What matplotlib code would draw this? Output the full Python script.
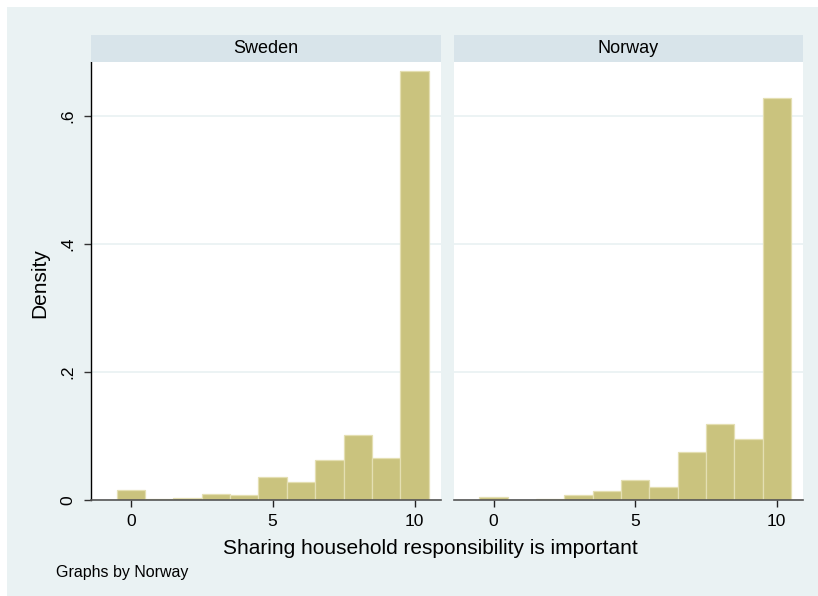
import matplotlib
matplotlib.use("Agg")
import matplotlib.pyplot as plt
from matplotlib.patches import Rectangle

plt.rcParams["font.family"] = ["Liberation Sans", "DejaVu Sans"]

# Discrete histogram, one bar per response value 0..10
bins = list(range(0, 11))
sweden_density = [0.016, 0.001, 0.003, 0.010, 0.008, 0.036, 0.028, 0.062, 0.101, 0.065, 0.670]
norway_density = [0.004, 0.0005, 0.0016, 0.008, 0.014, 0.032, 0.021, 0.075, 0.119, 0.096, 0.628]
panel_titles = ["Sweden", "Norway"]
x_ticks = [0, 5, 10]
y_ticks = [0, 0.2, 0.4, 0.6]
y_tick_labels = ["0", ".2", ".4", ".6"]

W, H = 818, 596
BG = "#EAF2F3"
STRIP = "#D8E4EA"
BAR = "#CAC37E"
BAR_EDGE = "#E4DFB2"


def px_box(x0, y0, x1, y1):
    # pixel box (top-left origin) -> figure fraction [left, bottom, width, height]
    return [x0 / W, 1 - y1 / H, (x1 - x0) / W, (y1 - y0) / H]


fig = plt.figure(figsize=(W / 100, H / 100), dpi=100, facecolor="white")
fig.patches.append(Rectangle((7 / W, 0), 1 - 7 / W, 1 - 7 / H,
                             transform=fig.transFigure, facecolor=BG,
                             edgecolor="none", zorder=-10))

panels = [(91, 441, sweden_density), (454, 803, norway_density)]
for i, (x0, x1, dens) in enumerate(panels):
    ax = fig.add_axes(px_box(x0, 61.7, x1, 500))
    ax.set_facecolor("white")
    ax.bar(bins, dens, width=1.0, color=BAR, edgecolor=BAR_EDGE,
           linewidth=0.9, zorder=3)
    ax.set_xlim(-1.4, 10.93)
    ax.set_ylim(0, 0.685)
    ax.set_yticks(y_ticks)
    ax.set_xticks(x_ticks)
    ax.grid(axis="y", color=BG, linewidth=1.3, zorder=1)
    ax.set_axisbelow(True)
    for s in ["top", "right"]:
        ax.spines[s].set_visible(False)
    ax.spines["bottom"].set_color("#555555")
    ax.spines["bottom"].set_linewidth(1.2)
    ax.spines["bottom"].set_zorder(4)
    ax.tick_params(axis="x", length=5, width=1, color="#222222",
                   labelsize=12.5, pad=5)
    if i == 0:
        ax.spines["left"].set_color("black")
        ax.spines["left"].set_linewidth(1)
        ax.set_yticklabels(y_tick_labels, rotation=90, va="center")
        ax.tick_params(axis="y", length=5, width=1, color="#333333",
                       labelsize=12.5, pad=6)
    else:
        ax.spines["left"].set_visible(False)
        ax.tick_params(axis="y", length=0, labelleft=False)

    # panel header strip
    sax = fig.add_axes(px_box(x0, 35, x1, 61.7))
    sax.set_facecolor(STRIP)
    sax.set_xticks([])
    sax.set_yticks([])
    for s in sax.spines.values():
        s.set_visible(False)
    sax.text(0.5, 0.48, panel_titles[i], ha="center", va="center",
             fontsize=13, transform=sax.transAxes)

fig.text(430 / W, 1 - 549 / H, "Sharing household responsibility is important",
         ha="center", va="center", fontsize=15)
fig.text(40 / W, 1 - 283 / H, "Density", rotation=90,
         ha="center", va="center", fontsize=15)
fig.text(56 / W, 1 - 572 / H, "Graphs by Norway",
         ha="left", va="center", fontsize=11.5)

fig.savefig("out.png", dpi=100, facecolor=fig.get_facecolor())
